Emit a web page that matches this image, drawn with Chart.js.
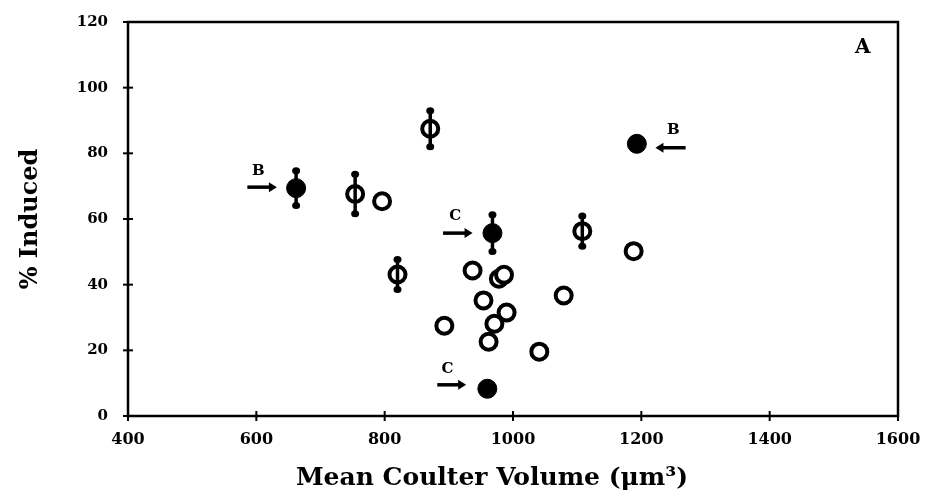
<!DOCTYPE html>
<html><head><meta charset="utf-8">
<script src="https://cdn.jsdelivr.net/npm/chart.js@4"></script>
<style>html,body{margin:0;padding:0;background:#fff}#wrap{width:929px;height:501px}</style>
</head><body><div id="wrap"><canvas id="c" width="929" height="501"></canvas></div>
<script>
// ---- data ----
const xTicks = [400, 600, 800, 1000, 1200, 1400, 1600];
const yTicks = [0, 20, 40, 60, 80, 100, 120];
// open circles: volume, % induced, error (0 = none)
const openX   = [754, 796, 871, 820, 937, 978, 986, 954, 990, 971, 893, 962, 1041, 1079, 1108, 1188];
const openY   = [67.6, 65.4, 87.5, 43.1, 44.3, 41.8, 43.0, 35.2, 31.5, 28.1, 27.5, 22.6, 19.6, 36.7, 56.3, 50.2];
const openErr = [6.0, 0, 5.5, 4.6, 0, 0, 0, 0, 0, 0, 0, 0, 0, 0, 4.6, 0];
// filled circles
const fillX   = [662, 968, 960, 1193];
const fillY   = [69.4, 55.7, 8.3, 82.9];
const fillErr = [5.3, 5.6, 0, 0];
// arrow annotations (data coords)
const arrowFromX = [586, 891, 882, 1269];
const arrowToX   = [632, 937, 927, 1222];
const arrowAtY   = [69.7, 55.7, 9.5, 81.7];
const arrowText  = ['B', 'C', 'C', 'B'];
const arrowTextX = [603, 910, 898, 1250];
const arrowTextY = [74.5, 60.9, 14.4, 87.2];
const panelLabel = 'A';
const xTitle = 'Mean Coulter Volume (μm³)';
const yTitle = '% Induced';

const FONT = "'DejaVu Serif', serif";
const toPts = (xs, ys) => xs.map((x, i) => ({x, y: ys[i]}));

const decor = {
  id: 'decor',
  afterDatasetsDraw(chart) {
    const {ctx, chartArea: a, scales: {x, y}} = chart;
    ctx.save();
    ctx.strokeStyle = '#000'; ctx.fillStyle = '#000';
    // frame
    ctx.lineWidth = 2.5;
    ctx.strokeRect(a.left, a.top, a.right - a.left, a.bottom - a.top);
    // ticks crossing axes
    ctx.lineWidth = 2;
    xTicks.forEach(v => { const px = x.getPixelForValue(v); ctx.beginPath(); ctx.moveTo(px, a.bottom - 5); ctx.lineTo(px, a.bottom + 5); ctx.stroke(); });
    yTicks.forEach(v => { const py = y.getPixelForValue(v); ctx.beginPath(); ctx.moveTo(a.left - 5, py); ctx.lineTo(a.left + 5, py); ctx.stroke(); });
    // error bars
    const drawErr = (xs, ys, es) => xs.forEach((vx, i) => {
      if (!es[i]) return;
      const px = x.getPixelForValue(vx);
      const t = y.getPixelForValue(ys[i] + es[i]), b = y.getPixelForValue(ys[i] - es[i]);
      ctx.lineWidth = 3.5;
      ctx.beginPath(); ctx.moveTo(px, t); ctx.lineTo(px, b); ctx.stroke();
      [t, b].forEach(py => { ctx.beginPath(); ctx.ellipse(px, py, 4, 3.5, 0, 0, Math.PI * 2); ctx.fill(); });
    });
    drawErr(openX, openY, openErr);
    drawErr(fillX, fillY, fillErr);
    // arrows
    arrowFromX.forEach((fx, i) => {
      const x0 = x.getPixelForValue(fx), x1 = x.getPixelForValue(arrowToX[i]);
      const py = y.getPixelForValue(arrowAtY[i]);
      const dir = Math.sign(x1 - x0);
      ctx.lineWidth = 3.5;
      ctx.beginPath(); ctx.moveTo(x0, py); ctx.lineTo(x1 - dir * 6, py); ctx.stroke();
      ctx.beginPath(); ctx.moveTo(x1, py); ctx.lineTo(x1 - dir * 8, py - 5); ctx.lineTo(x1 - dir * 8, py + 5); ctx.closePath(); ctx.fill();
      ctx.font = `bold 15px ${FONT}`; ctx.textAlign = 'center'; ctx.textBaseline = 'middle';
      ctx.fillText(arrowText[i], x.getPixelForValue(arrowTextX[i]), y.getPixelForValue(arrowTextY[i]));
    });
    ctx.font = `bold 20px ${FONT}`; ctx.textAlign = 'center'; ctx.textBaseline = 'middle';
    ctx.fillText(panelLabel, x.getPixelForValue(1545), y.getPixelForValue(112));
    // x axis title
    ctx.font = `bold 25px ${FONT}`; ctx.textAlign = 'center'; ctx.textBaseline = 'middle';
    ctx.fillText(xTitle, 492, 478);
    ctx.restore();
  }
};

new Chart(document.getElementById('c'), {
  type: 'scatter',
  data: {
    datasets: [
      { label: 'open', data: toPts(openX, openY), pointStyle: 'circle', pointRadius: 8, pointBorderWidth: 4,
        pointBackgroundColor: '#fff', pointBorderColor: '#000' },
      { label: 'filled', data: toPts(fillX, fillY), pointStyle: 'circle', pointRadius: 9.5, pointBorderWidth: 1,
        pointBackgroundColor: '#000', pointBorderColor: '#000' }
    ]
  },
  options: {
    responsive: false, animation: false, devicePixelRatio: 1,
    layout: { padding: { top: 22, right: 31, left: 0, bottom: 0 } },
    plugins: { legend: { display: false }, tooltip: { enabled: false } },
    scales: {
      x: {
        type: 'linear', min: 400, max: 1600,
        afterBuildTicks: s => { s.ticks = xTicks.map(v => ({value: v})); },
        afterFit: s => { s.height = 85; },
        grid: { display: false }, border: { display: false },
        ticks: { color: '#000', font: { family: FONT, weight: 'bold', size: 16 }, padding: 6, maxRotation: 0,
                 callback: v => String(v) }
      },
      y: {
        type: 'linear', min: 0, max: 120,
        afterBuildTicks: s => { s.ticks = yTicks.map(v => ({value: v})); },
        afterFit: s => { s.width = 128; },
        grid: { display: false }, border: { display: false },
        ticks: { color: '#000', font: { family: FONT, weight: 'bold', size: 15 }, padding: 12,
                 callback: v => String(v) },
        title: { display: true, text: yTitle, color: '#000', font: { family: FONT, weight: 'bold', size: 24 }, padding: { top: 16, bottom: 0 } }
      }
    }
  },
  plugins: [decor]
});
</script></body></html>
